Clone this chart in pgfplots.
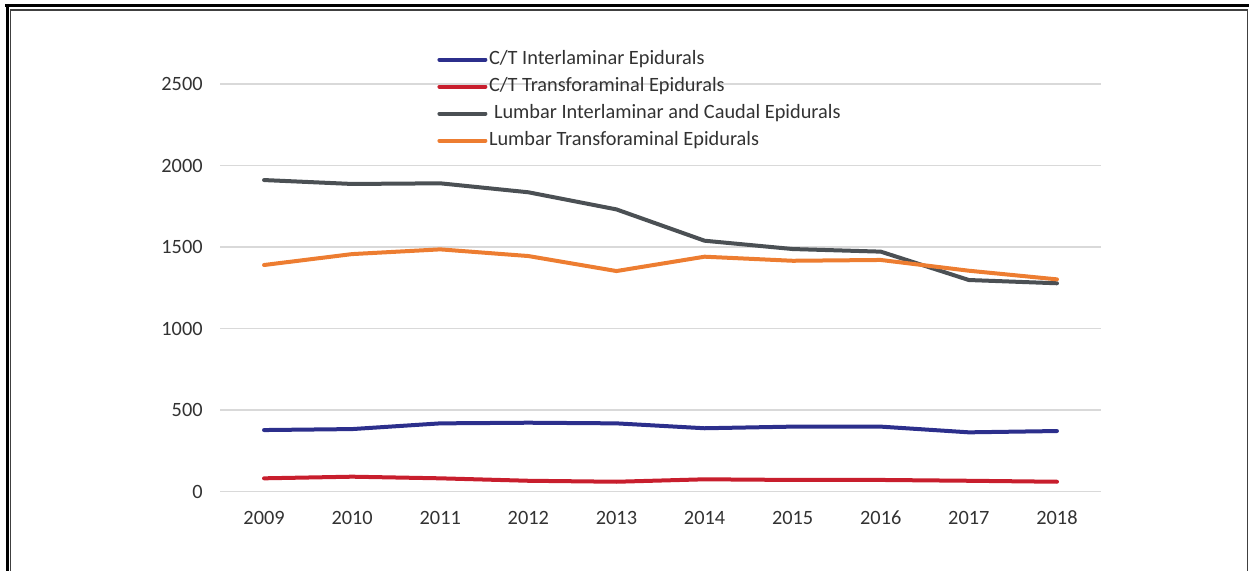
\documentclass[border=0pt]{standalone}
\usepackage{fontspec}
\setmainfont{Carlito}
\usepackage{pgfplots}
\pgfplotsset{compat=1.18}

\definecolor{ctinter}{RGB}{44,47,140}
\definecolor{cttrans}{RGB}{200,30,45}
\definecolor{luminter}{RGB}{75,80,84}
\definecolor{lumtrans}{RGB}{237,125,49}
\definecolor{gridgray}{RGB}{217,217,217}
\definecolor{labelgray}{RGB}{50,50,50}

\begin{document}
\begin{tikzpicture}
% page 1249x571 px, 1 px = 0.5bp
\path[use as bounding box] (0,0) rectangle (624.5bp,285.5bp);
% frame
\draw[black, line width=1.5bp] (2.5bp,282.6bp) -- (624.5bp,282.6bp);
\draw[black, line width=1.5bp] (3.75bp,283.35bp) -- (3.75bp,0bp);
\draw[black!75, line width=0.6bp] (5.35bp,0bp) -- (5.35bp,280.5bp) -- (623.85bp,280.5bp) -- (623.85bp,0bp);

\begin{axis}[
    at={(110bp,39.65bp)}, anchor=south west,
    scale only axis,
    width=440.5bp, height=203.85bp,
    xmin=2008.5, xmax=2018.5,
    ymin=0, ymax=2500,
    xtick={2009,2010,...,2018},
    ytick={0,500,...,2500},
    axis line style={draw=none},
    major tick length=0pt,
    ymajorgrids,
    grid style={color=gridgray, line width=0.75bp},
    /pgf/number format/1000 sep={},
    /pgf/number format/assume math mode=true,
    tick label style={font=\fontsize{10.2}{12}\selectfont, text=labelgray},
    yticklabel style={inner sep=0pt, anchor=east, xshift=-8.5bp},
    xticklabel style={inner sep=0pt, anchor=north, yshift=-9.5bp},
    every axis plot/.append style={line width=2bp, line join=round, line cap=round},
    legend image code/.code={\draw[#1, line width=2bp] (0bp,0bp) -- (23bp,0bp);},
    legend cell align=left,
    legend style={at={(0.2463,1.0855)}, anchor=north west,
        draw=none, fill=none, inner sep=0pt,
        row sep=3.5bp, column sep=0.8bp,
        nodes={inner sep=0pt, text height=7.5bp, text depth=2.5bp,
            font=\fontsize{10.2}{12}\selectfont, text=labelgray}},
]

% C/T Interlaminar
\addplot[ctinter] coordinates {(2009,378) (2010,384) (2011,419) (2012,423) (2013,419) (2014,389) (2015,399) (2016,399) (2017,364) (2018,372)};
% C/T Transforaminal
\addplot[cttrans] coordinates {(2009,82) (2010,92) (2011,82) (2012,67) (2013,61) (2014,76) (2015,72) (2016,72) (2017,67) (2018,61)};
% Lumbar Interlaminar and Caudal
\addplot[luminter] coordinates {(2009,1911) (2010,1887) (2011,1891) (2012,1836) (2013,1731) (2014,1539) (2015,1488) (2016,1472) (2017,1298) (2018,1278)};
% Lumbar Transforaminal
\addplot[lumtrans] coordinates {(2009,1390) (2010,1457) (2011,1486) (2012,1445) (2013,1353) (2014,1441) (2015,1416) (2016,1421) (2017,1355) (2018,1302)};

\legend{C/T Interlaminar Epidurals, C/T Transforaminal Epidurals, \hspace{2.5bp}Lumbar Interlaminar and Caudal Epidurals, Lumbar Transforaminal Epidurals}
\end{axis}
\end{tikzpicture}
\end{document}
